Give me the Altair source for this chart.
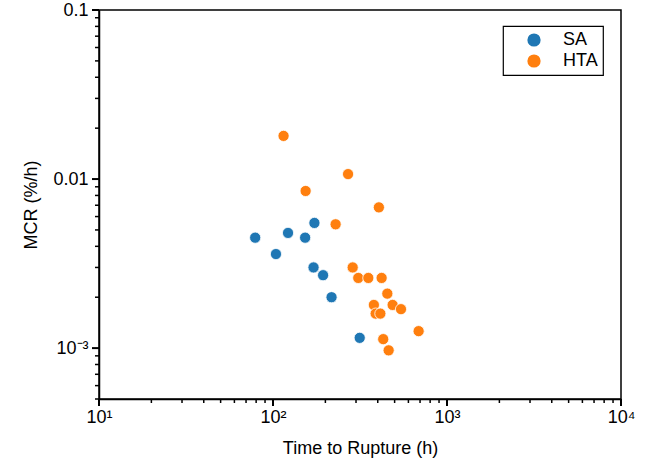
import altair as alt
import pandas as pd

# Data
sa_time = [79, 104, 122, 153, 173, 171, 194, 217, 315]
sa_mcr = [0.0045, 0.0036, 0.0048, 0.0045, 0.0055, 0.0030, 0.0027, 0.0020, 0.00115]

hta_time = [115, 270, 154, 406, 229, 287, 309, 353, 421, 454, 487, 544, 380, 389, 414, 687, 430, 462]
hta_mcr = [0.0180, 0.0107, 0.0085, 0.0068, 0.0054, 0.0030, 0.0026, 0.0026, 0.0026, 0.0021,
           0.0018, 0.0017, 0.0018, 0.0016, 0.0016, 0.00126, 0.00113, 0.00097]

groups = ["SA", "HTA"]
colors = ["#1f77b4", "#ff7f0e"]

x_major = [10, 100, 1000, 10000]
x_major_labels = ["10¹", "10²", "10³", "10⁴"]
y_major = [0.001, 0.01, 0.1]
y_major_labels = ["10⁻³", "0.01", "0.1"]
x_minor = [m * 10 ** e for e in range(1, 4) for m in range(2, 10)]
y_minor = [m * 10.0 ** e for e in (-4, -3, -2) for m in range(2, 10)]
y_minor = [v for v in y_minor if v >= 0.0005 - 1e-12]

W, H = 522, 389

df = pd.concat([
    pd.DataFrame({"t": sa_time, "mcr": sa_mcr, "group": "SA"}),
    pd.DataFrame({"t": hta_time, "mcr": hta_mcr, "group": "HTA"}),
], ignore_index=True)
df["idx"] = range(len(df))

FONT = "Liberation Sans"


def label_expr(values, labels):
    parts = [f"abs(datum.value - {v}) < {v * 1e-6} ? '{l}'" for v, l in zip(values, labels)]
    return " : ".join(parts) + " : ''"


xscale = alt.Scale(type="log", domain=[10, 10000], nice=False)
yscale = alt.Scale(type="log", domain=[0.0005, 0.1], nice=False)

points = alt.Chart(df).mark_point(
    filled=True, size=125, opacity=1, stroke="white", strokeWidth=0.8, shape="circle"
).encode(
    x=alt.X("t:Q", title="Time to Rupture (h)", scale=xscale,
            axis=alt.Axis(orient="bottom", values=x_major, ticks=False,
                          labelExpr=label_expr(x_major, x_major_labels), grid=False,
                          labelPadding=9, titlePadding=13, labelFlush=False,
                          labelOverlap=False)),
    y=alt.Y("mcr:Q", title="MCR (%/h)", scale=yscale,
            axis=alt.Axis(orient="left", values=y_major, ticks=False,
                          labelExpr=label_expr(y_major, y_major_labels), grid=False,
                          labelPadding=11, titlePadding=12, labelFlush=False,
                          labelOverlap=False)),
    color=alt.Color("group:N", scale=alt.Scale(domain=groups, range=colors),
                    legend=alt.Legend(title=None, orient="none", legendX=404, legendY=16,
                                      strokeColor="black", padding=5,
                                      cornerRadius=0, symbolOffset=17, labelOffset=20,
                                      symbolSize=175, symbolType="circle",
                                      symbolStrokeWidth=0, rowPadding=3,
                                      labelFontSize=18, labelFont=FONT, labelColor="black")),
    order=alt.Order("idx:Q"),
)


def xticks(vals, length, width):
    return alt.Chart(pd.DataFrame({"v": vals})).mark_rule(
        color="black", strokeWidth=width, clip=False
    ).encode(x=alt.X("v:Q", scale=xscale), y=alt.value(H), y2=alt.value(H + length))


def yticks(vals, length, width):
    return alt.Chart(pd.DataFrame({"v": vals})).mark_rule(
        color="black", strokeWidth=width, clip=False
    ).encode(y=alt.Y("v:Q", scale=yscale), x=alt.value(0), x2=alt.value(-length))


chart = alt.layer(
    xticks(x_major, 7, 2), xticks(x_minor, 4, 1.5),
    yticks(y_major, 7, 2), yticks(y_minor, 4, 1.5),
    points,
).properties(
    width=W, height=H,
    background="white",
    autosize=alt.AutoSizeParams(type="none"),
    padding={"left": 99, "top": 10, "right": 31, "bottom": 63},
).configure_view(
    stroke="black", strokeWidth=1.5
).configure_legend(
    strokeWidth=1.2
).configure_axis(
    domainColor="black", domainWidth=1.5,
    labelFont=FONT, labelFontSize=18, labelColor="black",
    titleFont=FONT, titleFontSize=18, titleFontWeight="normal", titleColor="black",
)

chart.save("out.html", embed_options={"renderer": "svg", "actions": False})
